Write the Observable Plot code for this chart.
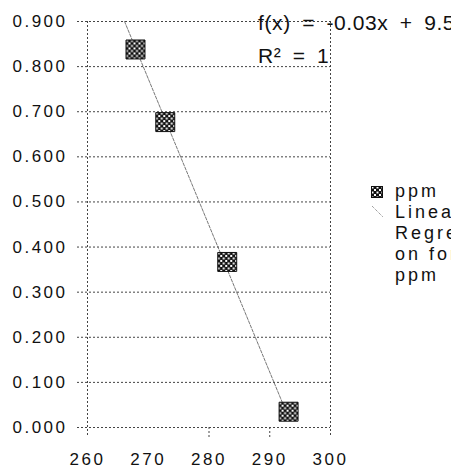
<!DOCTYPE html>
<html><head><meta charset="utf-8">
<script src="https://cdn.jsdelivr.net/npm/d3@7"></script>
<script src="https://cdn.jsdelivr.net/npm/@observablehq/plot@0.6"></script>
<style>
html,body{margin:0;padding:0;background:#fff;width:451px;height:470px;overflow:hidden;}
#wrap{position:relative;width:451px;height:470px;font-family:"Liberation Sans",Arial,sans-serif;color:#111;}
#eq{position:absolute;left:258px;top:6px;font-size:21px;line-height:33px;white-space:pre;word-spacing:5px;letter-spacing:0.6px;}
#legend{position:absolute;left:371px;top:181px;font-size:18px;letter-spacing:3px;line-height:21px;white-space:pre;}
.lrow{position:relative;padding-left:24px;}
</style></head>
<body><div id="wrap"><div id="chart"></div><div id="eq"></div><div id="legend"></div></div>
<script>
// data
const xVals = [267.9, 272.8, 283.0, 293.1];
const ppm = [0.838, 0.677, 0.367, 0.035];
const trendX = [266.1, 292.3];
const trendY = [0.900, 0.048];
const xTicks = [260, 270, 280, 290, 300];
const yTicks = [0, 0.1, 0.2, 0.3, 0.4, 0.5, 0.6, 0.7, 0.8, 0.9];
const xFrame = [260, 300];
const xStubs = [280, 290];
const eqLines = ["f(x) = -0.03x + 9.55", "R² = 1"];
const seriesName = "ppm";
const trendLabel = ["Linear", "Regressi", "on for", "ppm"];

const pts = xVals.map((x, i) => ({x, y: ppm[i]}));
const trend = trendX.map((x, i) => ({x, y: trendY[i]}));
const dots = "2,2";
const gridColor = "#444";

const plot = Plot.plot({
  width: 451, height: 470,
  marginLeft: 87, marginRight: 121, marginTop: 21, marginBottom: 43,
  style: {fontFamily: "Liberation Sans, Arial, sans-serif", fontSize: "17px", letterSpacing: "2.5px", color: "#111", background: "#fff", overflow: "visible"},
  x: {domain: [260, 300], axis: null},
  y: {domain: [0, 0.9], axis: null},
  marks: [
    Plot.ruleY(yTicks, {stroke: gridColor, strokeWidth: 1, strokeDasharray: dots, insetLeft: -10}),
    Plot.ruleX(xFrame, {stroke: gridColor, strokeWidth: 1, strokeDasharray: dots, insetBottom: -10}),
    Plot.ruleX(xStubs, {y1: 0, y2: 0, insetBottom: -10, stroke: gridColor, strokeWidth: 1, strokeDasharray: dots}),
    Plot.axisY(yTicks, {tickSize: 0, tickPadding: 20, tickFormat: d3.format(".3f"), fill: "#111", label: null}),
    Plot.axisX(xTicks, {tickSize: 0, tickPadding: 25, tickFormat: d => String(d), fill: "#111", label: null}),
    Plot.line(trend, {x: "x", y: "y", stroke: "#555", strokeWidth: 0.8, strokeDasharray: "3,1.5"}),
    Plot.dot(pts, {x: "x", y: "y", symbol: "square", r: 10.7, fill: "url(#checker)", stroke: "#111", strokeWidth: 1})
  ]
});

// checker pattern definition
const ns = "http://www.w3.org/2000/svg";
const defs = document.createElementNS(ns, "defs");
defs.innerHTML = '<pattern id="checker" width="5" height="5" patternUnits="userSpaceOnUse">' +
  '<rect width="5" height="5" fill="#111"/>' +
  '<rect x="0.5" y="0.5" width="2" height="2" fill="#fff"/>' +
  '<rect x="3" y="3" width="2" height="2" fill="#fff"/></pattern>';
plot.insertBefore(defs, plot.firstChild);
document.getElementById("chart").appendChild(plot);

document.getElementById("eq").textContent = eqLines.join("\n");

const leg = document.getElementById("legend");
const r1 = document.createElement("div");
r1.className = "lrow";
r1.innerHTML = '<svg width="12" height="12" style="position:absolute;left:0;top:5px"><rect x="0.5" y="0.5" width="11" height="11" fill="url(#checker)" stroke="#111"/></svg>';
r1.appendChild(document.createTextNode(seriesName));
leg.appendChild(r1);
trendLabel.forEach((t, i) => {
  const r = document.createElement("div");
  r.className = "lrow";
  if (i === 0) r.innerHTML = '<svg width="14" height="14" style="position:absolute;left:0;top:3px"><line x1="1" y1="1" x2="12" y2="12" stroke="#777" stroke-dasharray="1,1"/></svg>';
  r.appendChild(document.createTextNode(t));
  leg.appendChild(r);
});
</script></body></html>
